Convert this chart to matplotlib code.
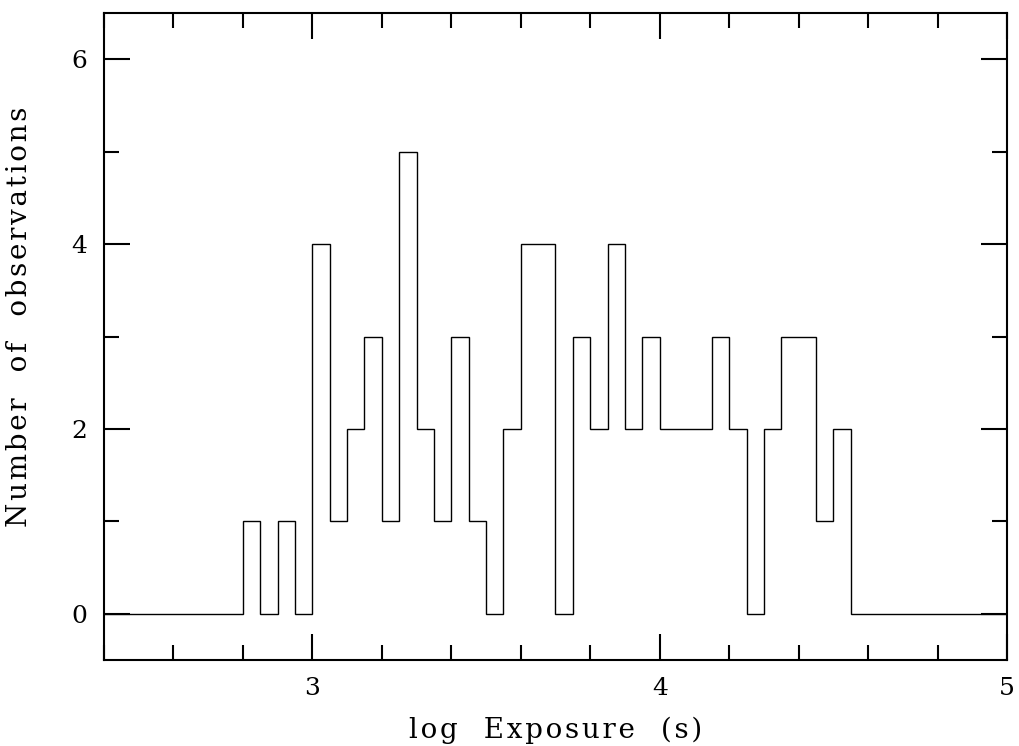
import numpy as np
import matplotlib
matplotlib.use("Agg")
import matplotlib.pyplot as plt
from matplotlib.ticker import MultipleLocator

plt.rcParams['font.family'] = 'DejaVu Serif'

# histogram of log exposure times, bin width 0.05 dex starting at 2.80
BIN_START = 2.80
BIN_WIDTH = 0.05
COUNTS = [1, 0, 1, 0, 4, 1, 2, 3, 1, 5, 2, 1, 3, 1, 0, 2, 4, 4, 0, 3,
          2, 4, 2, 3, 2, 2, 2, 3, 2, 0, 2, 3, 3, 1, 2]
X_RANGE = (2.4, 5.0)
Y_RANGE = (-0.5, 6.5)
XLABEL = 'log Exposure (s)'
YLABEL = 'Number of observations'


def spaced(s):
    # widen the tracking a little, the way the old plotting package set its labels
    return '\u200a'.join(s.replace(' ', '  '))


edges = BIN_START + BIN_WIDTH * np.arange(len(COUNTS) + 1)
# pad with empty bins out to the plot limits so the zero line runs edge to edge
edges = np.concatenate([[X_RANGE[0]], edges, [X_RANGE[1]]])
values = np.concatenate([[0], COUNTS, [0]])

fig = plt.figure(figsize=(10.19, 7.46), dpi=100)
ax = fig.add_axes([104 / 1019, 86 / 746, 903 / 1019, 647 / 746])

ax.stairs(values, edges, baseline=None, color='black', linewidth=1.0)

ax.set_xlim(*X_RANGE)
ax.set_ylim(*Y_RANGE)

ax.xaxis.set_major_locator(MultipleLocator(1))
ax.xaxis.set_minor_locator(MultipleLocator(0.2))
ax.yaxis.set_major_locator(MultipleLocator(2))
ax.yaxis.set_minor_locator(MultipleLocator(1))
ax.tick_params(which='both', direction='in', top=True, right=True,
               width=1.5, labelsize=18, colors='black')
ax.tick_params(which='major', length=19, pad=12)
ax.tick_params(which='minor', length=11)
for s in ax.spines.values():
    s.set_linewidth(1.5)

ax.set_xlabel(spaced(XLABEL), fontsize=20, labelpad=12)
ax.set_ylabel(spaced(YLABEL), fontsize=20)
ax.yaxis.set_label_coords(-0.079, 0.53)

fig.savefig('out.png', dpi=100, facecolor='white')
